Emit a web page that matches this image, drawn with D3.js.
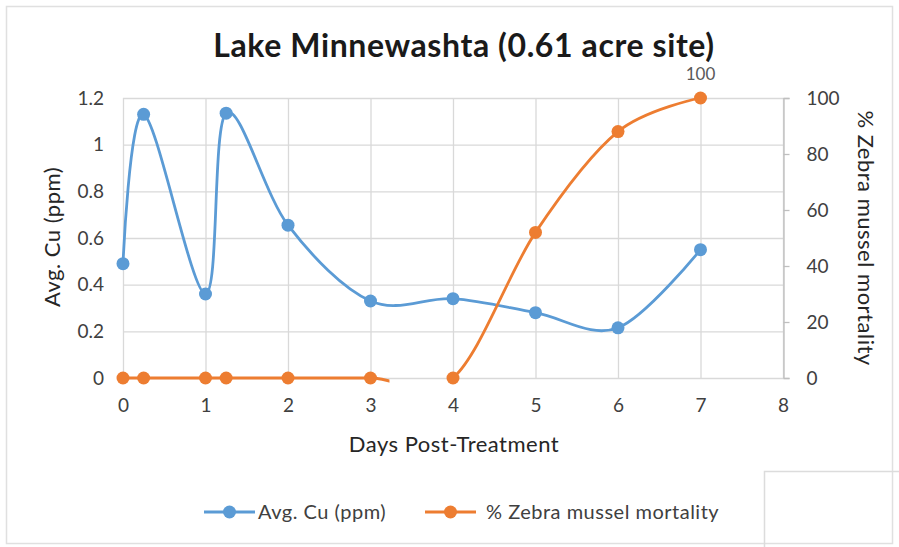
<!DOCTYPE html>
<html>
<head>
<meta charset="utf-8">
<script src="https://cdn.jsdelivr.net/npm/d3@7"></script>
<style>
  html, body { margin: 0; padding: 0; background: #fff; }
  svg { display: block; }
  text { font-family: Lato, "Open Sans", sans-serif; }
</style>
</head>
<body>
<svg id="chart" width="899" height="547"></svg>
<script>
// ---- data ----
const title = "Lake Minnewashta (0.61 acre site)";
const days = [0, 0.25, 1, 1.25, 2, 3, 4, 5, 6, 7];
const avgCu = [0.49, 1.13, 0.36, 1.135, 0.655, 0.33, 0.34, 0.28, 0.215, 0.55];
const mortality = [0, 0, 0, 0, 0, 0, 0, 52, 88, 100];
const xTicks = [0, 1, 2, 3, 4, 5, 6, 7, 8];
const yLeftTicks = [0, 0.2, 0.4, 0.6, 0.8, 1, 1.2];
const yRightTicks = [0, 20, 40, 60, 80, 100];
const seriesNames = ["Avg. Cu (ppm)", "% Zebra mussel mortality"];
const mortalityGap = [3.23, 4]; // segment of the orange line not shown in the original
const xTitle = "Days Post-Treatment";
const yLeftTitle = "Avg. Cu (ppm)";
const yRightTitle = "% Zebra mussel mortality";

// ---- layout ----
const W = 899, H = 547;
const plot = { left: 123, right: 783, top: 98, bottom: 378 };
const blue = "#5B9BD5", orange = "#ED7D31";
const grid = "#d9d9d9", tickText = "#404040";

const svg = d3.select("#chart");

// outer border
svg.append("rect").attr("x", 6.5).attr("y", 6.5).attr("width", W - 13).attr("height", H - 10)
  .attr("fill", "#fff").attr("stroke", "#e0e0e0").attr("stroke-width", 1.5);

const x = d3.scaleLinear().domain([0, 8]).range([plot.left, plot.right]);
const yL = d3.scaleLinear().domain([0, 1.2]).range([plot.bottom, plot.top]);
const yR = d3.scaleLinear().domain([0, 100]).range([plot.bottom, plot.top]);

// gridlines
svg.append("g").selectAll("line").data(yLeftTicks).join("line")
  .attr("x1", plot.left).attr("x2", plot.right)
  .attr("y1", d => yL(d) + 0.5).attr("y2", d => yL(d) + 0.5)
  .attr("stroke", grid).attr("stroke-width", 1.3);
svg.append("g").selectAll("line").data(xTicks).join("line")
  .attr("x1", d => x(d) + 0.5).attr("x2", d => x(d) + 0.5)
  .attr("y1", plot.top).attr("y2", plot.bottom)
  .attr("stroke", grid).attr("stroke-width", 1.3);

// left axis labels
const leftAxis = d3.axisLeft(yL).tickValues(yLeftTicks).tickSize(0).tickPadding(19)
  .tickFormat(d => d3.format("")(+d.toFixed(1)));
const gL = svg.append("g").attr("transform", `translate(${plot.left},0)`).call(leftAxis);
gL.select(".domain").remove();
gL.selectAll("text").attr("fill", tickText).style("font-size", "19px").style("font-family", "Lato");

// right axis
const rightAxis = d3.axisRight(yR).tickValues(yRightTicks).tickSize(6).tickPadding(17);
const gR = svg.append("g").attr("transform", `translate(${plot.right + 0.5},0)`).call(rightAxis);
gR.select(".domain").attr("stroke", "#bfbfbf").attr("stroke-width", 1.3);
gR.selectAll(".tick line").attr("stroke", "#bfbfbf").attr("stroke-width", 1.3);
gR.selectAll("text").attr("fill", tickText).style("font-size", "19px").style("font-family", "Lato");

// bottom axis labels
const bottomAxis = d3.axisBottom(x).tickValues(xTicks).tickSize(0).tickPadding(21);
const gB = svg.append("g").attr("transform", `translate(0,${plot.bottom})`).call(bottomAxis);
gB.select(".domain").remove();
gB.selectAll("text").attr("fill", tickText).style("font-size", "19px").style("font-family", "Lato");

// clip for the orange line gap
const defs = svg.append("defs");
const clip = defs.append("clipPath").attr("id", "gapclip");
clip.append("rect").attr("x", 0).attr("y", 0).attr("width", x(mortalityGap[0])).attr("height", H);
clip.append("rect").attr("x", x(mortalityGap[1])).attr("y", 0).attr("width", W - x(mortalityGap[1])).attr("height", H);

const curve = d3.curveCatmullRom.alpha(0);
const cuData = days.map((d, i) => [d, avgCu[i]]);
const moData = days.map((d, i) => [d, mortality[i]]);

const lineL = d3.line().x(d => x(d[0])).y(d => yL(d[1])).curve(curve);
const lineR = d3.line().x(d => x(d[0])).y(d => yR(d[1])).curve(curve);

svg.append("path").attr("d", lineL(cuData)).attr("fill", "none")
  .attr("stroke", blue).attr("stroke-width", 2.8).attr("stroke-linecap", "round");
svg.selectAll(".cuDot").data(cuData).join("circle").attr("class", "cuDot")
  .attr("cx", d => x(d[0])).attr("cy", d => yL(d[1])).attr("r", 6.5).attr("fill", blue);

svg.append("path").attr("d", lineR(moData)).attr("fill", "none").attr("clip-path", "url(#gapclip)")
  .attr("stroke", orange).attr("stroke-width", 2.8).attr("stroke-linecap", "butt");
svg.selectAll(".moDot").data(moData).join("circle").attr("class", "moDot")
  .attr("cx", d => x(d[0])).attr("cy", d => yR(d[1])).attr("r", 6.5).attr("fill", orange);

// data label on last mortality point
const last = moData[moData.length - 1];
svg.append("text").attr("x", x(last[0])).attr("y", yR(last[1]) - 18)
  .attr("text-anchor", "middle").attr("fill", "#595959").style("font-size", "17px")
  .text(d3.format("")(last[1]));

// title
svg.append("text").attr("x", 464).attr("y", 57).attr("text-anchor", "middle")
  .attr("fill", "#1a1a1a").style("font-size", "32px").style("font-weight", "700")
  .style("letter-spacing", "0.6px")
  .text(title);

// axis titles
svg.append("text").attr("x", 454).attr("y", 452).attr("text-anchor", "middle")
  .attr("fill", "#262626").style("font-size", "22px").style("letter-spacing", "0.5px").text(xTitle);
svg.append("text").attr("transform", `translate(60,237) rotate(-90)`).attr("text-anchor", "middle")
  .attr("fill", "#262626").style("font-size", "22px").style("letter-spacing", "0.5px").text(yLeftTitle);
svg.append("text").attr("transform", `translate(858,238) rotate(90)`).attr("text-anchor", "middle")
  .attr("fill", "#262626").style("font-size", "22px").style("letter-spacing", "0.5px").text(yRightTitle);

// legend
const legend = [
  { name: seriesNames[0], color: blue, x0: 204, x1: 255, tx: 258 },
  { name: seriesNames[1], color: orange, x0: 425, x1: 476, tx: 486 }
];
const lg = svg.append("g");
legend.forEach(l => {
  lg.append("line").attr("x1", l.x0).attr("x2", l.x1).attr("y1", 512).attr("y2", 512)
    .attr("stroke", l.color).attr("stroke-width", 2.8);
  lg.append("circle").attr("cx", (l.x0 + l.x1) / 2).attr("cy", 512).attr("r", 6.5).attr("fill", l.color);
  lg.append("text").attr("x", l.tx).attr("y", 519).attr("fill", "#404040")
    .style("font-size", "20px").style("letter-spacing", "0.5px").text(l.name);
});

// stray box at bottom right (present in the original image)
svg.append("path").attr("d", `M764.5,${H} V471.5 H${W}`).attr("fill", "none")
  .attr("stroke", "#dcdcdc").attr("stroke-width", 1.5);
</script>
</body>
</html>
